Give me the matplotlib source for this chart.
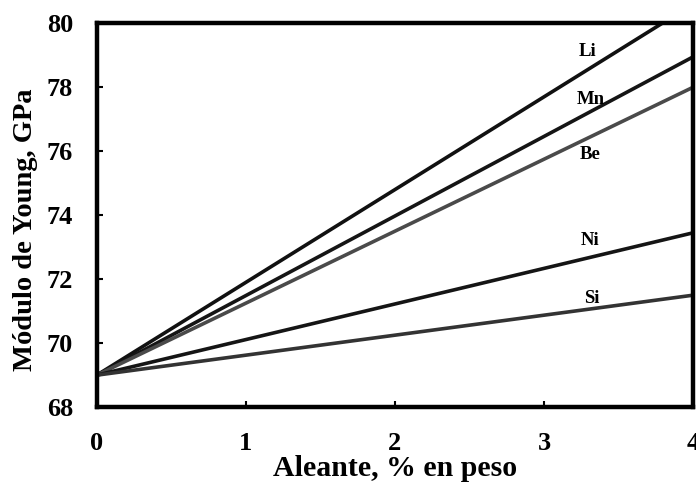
import matplotlib
matplotlib.use("Agg")
import matplotlib.pyplot as plt

# Alloying content (wt %) and Young's modulus endpoints for each element
alloy_x = [0, 4]
elements = ["Li", "Mn", "Be", "Ni", "Si"]
modulus_start = [69.0, 69.0, 69.0, 69.0, 69.0]
modulus_end = [80.6, 78.95, 78.0, 73.45, 71.5]
line_colors = ["#111111", "#151515", "#4a4a4a", "#151515", "#333333"]
label_pos = [(3.29, 79.13), (3.31, 77.6), (3.31, 75.9), (3.31, 73.2), (3.32, 71.4)]

x_ticks = [0, 1, 2, 3, 4]
y_ticks = [68, 70, 72, 74, 76, 78, 80]

plt.rcParams["font.family"] = ["Liberation Serif", "DejaVu Serif"]
plt.rcParams["font.weight"] = "bold"

fig = plt.figure(figsize=(6.96, 4.83), dpi=100)
ax = fig.add_axes([0.139, 0.157, 0.857, 0.795])

for name, y0, y1, c, (lx, ly) in zip(elements, modulus_start, modulus_end, line_colors, label_pos):
    ax.plot(alloy_x, [y0, y1], color=c, lw=2.6, solid_capstyle="butt")
    ax.text(lx, ly, name, fontsize=13.5, fontweight="bold", ha="center", va="center")

ax.set_xlim(0, 4)
ax.set_ylim(68, 80)
ax.set_xticks(x_ticks)
ax.set_yticks(y_ticks)
ax.tick_params(direction="in", length=4, width=1.5, labelsize=19)
ax.tick_params(axis="y", pad=17)
ax.tick_params(axis="x", pad=18)
for lab in ax.get_xticklabels() + ax.get_yticklabels():
    lab.set_fontweight("bold")
for s in ax.spines.values():
    s.set_linewidth(3.2)

ax.set_xlabel("Aleante, % en peso", fontsize=21.5, fontweight="bold")
ax.xaxis.set_label_coords(0.5, -0.125)
ax.set_ylabel("Módulo de Young, GPa", fontsize=20.5, fontweight="bold")
ax.yaxis.set_label_coords(-0.098, 0.461)

fig.savefig("out.png", dpi=100)
